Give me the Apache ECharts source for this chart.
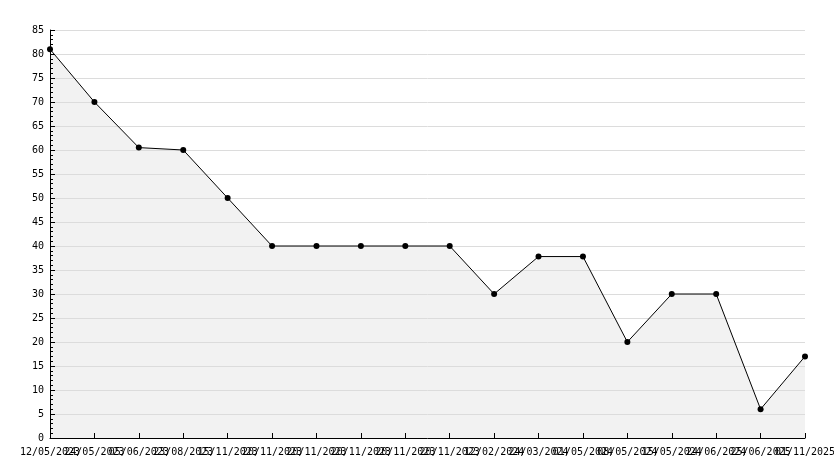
<!DOCTYPE html>
<html><head><meta charset="utf-8">
<script src="https://cdn.jsdelivr.net/npm/echarts@6/dist/echarts.min.js"></script>
<style>html,body{margin:0;padding:0;background:#fff}#c{width:834px;height:468px}</style>
</head><body><div id="c"></div>
<script>
const categories = ["12/05/2023","24/05/2023","05/06/2023","23/08/2023","15/11/2023","20/11/2023","20/11/2023","20/11/2023","20/11/2023","20/11/2023","12/02/2024","24/03/2024","01/05/2024","08/05/2024","15/05/2024","24/06/2024","25/06/2025","01/11/2025"];
const values = [81, 70, 60.5, 60, 50, 40, 40, 40, 40, 40, 30, 37.8, 37.8, 20, 30, 30, 6, 17];
const yTicks = {min: 0, max: 85, interval: 5};

const chart = echarts.init(document.getElementById('c'), null, {renderer: 'canvas'});
const font = {fontFamily: 'DejaVu Sans Mono', fontSize: 10, color: '#000'};
chart.setOption({
  animation: false,
  grid: {left: 50, right: 29, top: 30, bottom: 30, containLabel: false, outerBoundsMode: 'none'},
  xAxis: {
    type: 'category', data: categories, boundaryGap: false, z: 5,
    axisLine: {lineStyle: {color: '#000', width: 1}},
    axisTick: {show: true, inside: true, length: 5, lineStyle: {color: '#000'}, interval: 0},
    axisLabel: Object.assign({interval: 0, margin: 9, hideOverlap: false}, font),
    splitLine: {show: false}
  },
  yAxis: {
    type: 'value', min: yTicks.min, max: yTicks.max, interval: yTicks.interval, z: 5,
    axisLine: {show: true, lineStyle: {color: '#000', width: 1}},
    axisTick: {show: true, inside: true, length: 5, lineStyle: {color: '#000'}},
    minorTick: {show: true, splitNumber: 5, length: 3, lineStyle: {color: '#000'}},
    axisLabel: Object.assign({margin: 6}, font),
    splitLine: {show: true, lineStyle: {color: '#dcdcdc', width: 1}}
  },
  series: [{
    type: 'line', data: values, z: 1,
    lineStyle: {width: 0, opacity: 0},
    areaStyle: {color: '#f2f2f2', opacity: 1},
    symbol: 'none', silent: true
  }, {
    type: 'line', data: values, z: 10,
    lineStyle: {color: '#000', width: 1},
    symbol: 'circle', symbolSize: 6,
    itemStyle: {color: '#000'}
  }]
});
</script></body></html>
